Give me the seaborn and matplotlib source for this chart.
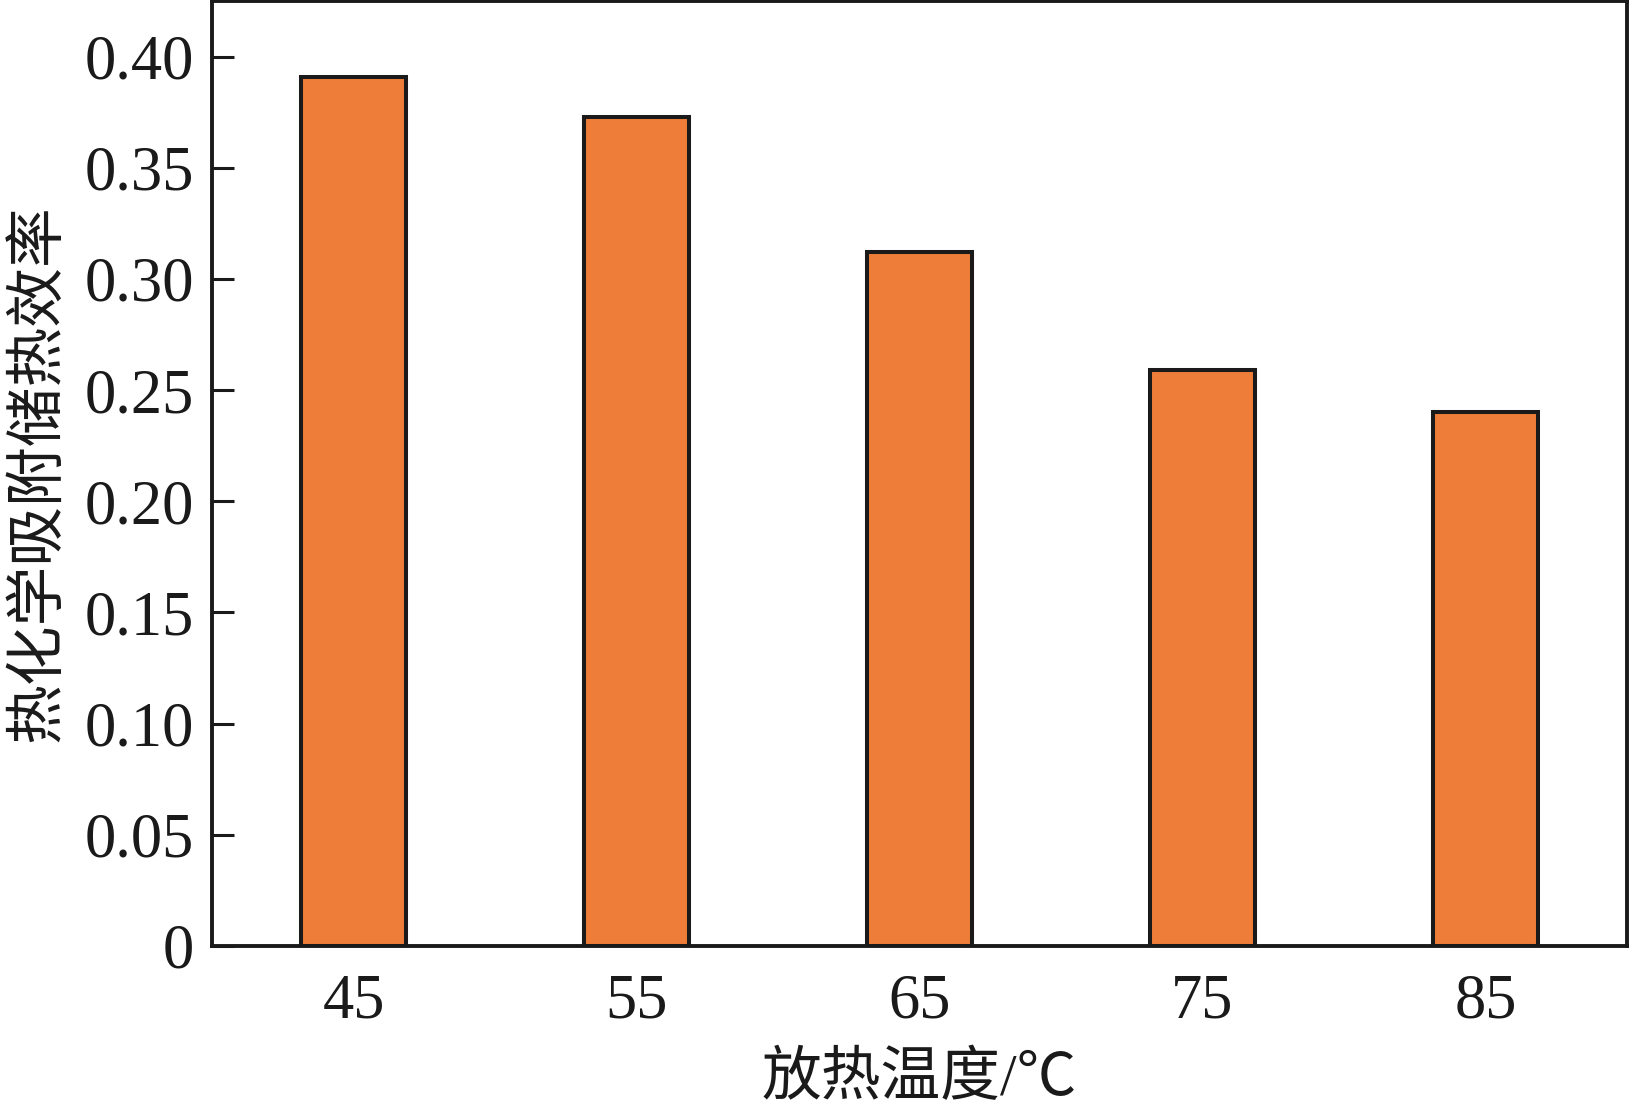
import matplotlib
matplotlib.use("Agg")
import matplotlib.pyplot as plt
import matplotlib.ticker as ticker
import seaborn as sns
import pandas as pd

# 数据
temps = ["45", "55", "65", "75", "85"]
efficiency = [0.391, 0.373, 0.312, 0.259, 0.240]
y_ticks = [0, 0.05, 0.10, 0.15, 0.20, 0.25, 0.30, 0.35, 0.40]

df = pd.DataFrame({"temp": temps, "eff": efficiency})

sns.set_style("ticks")
plt.rcParams['font.family'] = ['Liberation Serif', 'Noto Sans CJK SC']
plt.rcParams['axes.unicode_minus'] = False

fig = plt.figure(figsize=(16.32, 11.12), dpi=100)
ax = fig.add_axes([212 / 1632, 1 - 946 / 1112, 1415 / 1632, 945 / 1112])

sns.barplot(data=df, x="temp", y="eff", color="#ED7D38", saturation=1,
            edgecolor="#1a1a1a", linewidth=2.9, width=0.37, ax=ax)

ax.set_ylim(0, 0.425)
ax.set_xlim(-0.5, 4.5)
ax.set_yticks(y_ticks)
ax.yaxis.set_major_formatter(ticker.FuncFormatter(lambda v, p: '0' if v == 0 else '{:.2f}'.format(v)))

for s in ax.spines.values():
    s.set_linewidth(2.8)
    s.set_color("#1a1a1a")
    s.set_visible(True)

ax.tick_params(axis='both', direction='in', length=16, width=2.2, color="#1a1a1a",
               labelsize=45, labelcolor="#1a1a1a")
ax.tick_params(axis='y', pad=13)
ax.tick_params(axis='x', pad=20)

ax.set_xlabel("放热温度/℃", fontsize=43, color="#1a1a1a")
ax.set_ylabel("热化学吸附储热效率", fontsize=43, color="#1a1a1a")
ax.xaxis.set_label_coords(0.5, -0.113)
ax.yaxis.set_label_coords(-0.102, 0.5)

fig.savefig("out.png", dpi=100)
